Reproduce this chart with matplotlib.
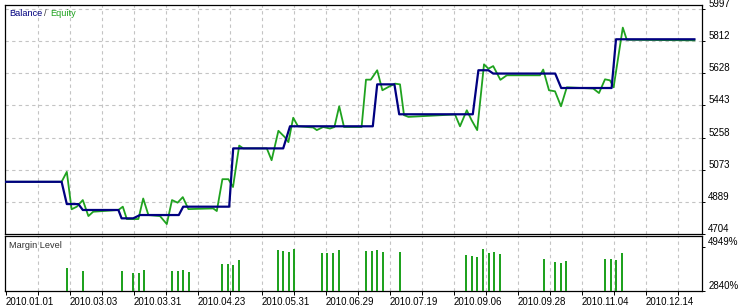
import numpy as np
import matplotlib
matplotlib.use("Agg")
import matplotlib.pyplot as plt

plt.rcParams['font.family'] = ['Liberation Sans', 'DejaVu Sans']

# x = trade number (uniform axis, dates only as labels)
balance_x = [-0.25, 13.9, 15.2, 18.1, 19.2, 28.1, 28.9, 31.8, 33.5, 43.2, 44.3, 55.8, 56.8, 69.3,
             71.0, 91.7, 92.8, 97.1, 98.3, 116.7, 118.1, 120.6, 121.8, 137.3, 138.8, 151.4, 152.5, 172.1]
balance = [5004, 5004, 4876, 4876, 4842, 4842, 4794, 4794, 4813, 4813, 4861, 4861, 5196, 5196,
           5323, 5323, 5564, 5564, 5392, 5392, 5645, 5645, 5626, 5626, 5543, 5543, 5823, 5823]

equity_x = [-0.25, 13.9, 15.2, 16.4, 17.7, 19.2, 20.6, 21.8, 28.1, 29.2, 30.2, 33.1, 34.3, 35.6,
            38.5, 40.2, 41.5, 42.9, 44.2, 45.6, 51.8, 52.7, 54.1, 55.6, 56.75, 58.3, 59.3, 65.2,
            66.4, 68.1, 69.6, 70.6, 71.8, 73.0, 76.8, 77.7, 79.3, 81.0, 82.1, 83.3, 84.5, 88.9,
            90.0, 91.2, 92.8, 94.1, 95.6, 97.25, 98.5, 99.5, 100.6, 112.25, 113.5, 115.2, 116.4,
            117.8, 119.5, 120.6, 121.8, 123.6, 125.2, 133.5, 134.3, 135.75, 137.25, 138.75, 140.2,
            146.8, 148.25, 149.75, 151.0, 151.9, 154.2, 155.2, 172.1]
equity = [5004, 5004, 5061, 4846, 4861, 4899, 4807, 4832, 4842, 4861, 4790, 4790, 4908, 4813,
          4807, 4761, 4899, 4884, 4916, 4847, 4851, 4836, 5019, 5019, 4974, 5212, 5196, 5196,
          5128, 5297, 5263, 5232, 5372, 5323, 5316, 5301, 5319, 5310, 5319, 5438, 5319, 5319,
          5591, 5591, 5645, 5530, 5549, 5568, 5564, 5387, 5377, 5391, 5323, 5415, 5358,
          5301, 5679, 5654, 5669, 5590, 5616, 5616, 5649, 5530, 5524, 5438, 5547,
          5540, 5514, 5593, 5587, 5547, 5890, 5820, 5817]

margin_x = [15.2, 19.2, 28.9, 31.7, 33.2, 34.5, 41.4, 42.9, 44.2, 45.75, 53.9, 55.4, 56.75, 58.2,
            67.9, 69.25, 70.75, 72.0, 78.9, 80.3, 81.7, 83.2, 90.0, 91.4, 92.75, 94.25, 98.5,
            114.9, 116.4, 117.75, 119.2, 120.7, 122.0, 123.5, 134.5, 137.25, 138.7, 140.0,
            149.75, 151.2, 152.5, 154.0]
margin_level = [3927, 3798, 3798, 3717, 3717, 3846, 3798, 3798, 3846, 3750, 4133, 4133, 4085, 4325,
                4804, 4756, 4708, 4852, 4660, 4660, 4660, 4804, 4756, 4756, 4804, 4708, 4708,
                4564, 4517, 4469, 4852, 4660, 4708, 4612, 4373, 4229, 4181, 4277,
                4373, 4373, 4325, 4660]

value_ticks = [4704, 4889, 5073, 5258, 5443, 5628, 5812, 5997]
margin_ticks = [2840, 4949]
date_labels = ['2010.01.01', '2010.03.03', '2010.03.31', '2010.04.23', '2010.05.31', '2010.06.29',
               '2010.07.19', '2010.09.06', '2010.09.28', '2010.11.04', '2010.12.14']

W, H = 742, 308
fig = plt.figure(figsize=(W / 100, H / 100), dpi=100)
ax = fig.add_axes([5 / W, 1 - 234 / H, 697 / W, 229 / H])
ax2 = fig.add_axes([5 / W, 1 - 291 / H, 697 / W, 55 / H])

grid_x = np.arange(0, 170, 8)
grid_style = dict(color='#c4c4c4', linestyle=(0, (3, 3)), linewidth=0.8)

# main panel
ax.plot(equity_x, equity, color='#1fa21f', lw=1.3, zorder=3)
ax.plot(balance_x, balance, color='#000080', lw=1.6, zorder=4)
ax.set_xlim(-0.25, 174)
ax.set_ylim(4704, 6020)
for gx in grid_x[1:]:
    ax.axvline(gx, zorder=1, **grid_style)
for gy in value_ticks[1:]:
    ax.axhline(gy, zorder=1, **grid_style)
ax.set_xticks([])
ax.yaxis.tick_right()
ax.set_yticks(value_ticks)
ax.set_yticklabels([str(v) for v in value_ticks], va='bottom')
ax.tick_params(axis='y', length=2, width=0.7, pad=2.5, labelsize=7)
for s in ax.spines.values():
    s.set_linewidth(0.9)

ax.text(4 / 697, 1 - 9 / 229, 'Balance', color='#000080', fontsize=6.6, transform=ax.transAxes, va='center')
ax.text(38.5 / 697, 1 - 9 / 229, '/', color='#404040', fontsize=6.6, transform=ax.transAxes, va='center')
ax.text(45 / 697, 1 - 9 / 229, 'Equity', color='#1fa21f', fontsize=6.6, transform=ax.transAxes, va='center')

# margin level panel
ax2.bar(margin_x, np.array(margin_level) - margin_ticks[0], bottom=margin_ticks[0],
        width=0.5, color='#1fa21f', zorder=3)
ax2.set_xlim(-0.25, 174)
ax2.set_ylim(2840, 5476)
for gx in grid_x[1:]:
    ax2.axvline(gx, zorder=1, **grid_style)
ax2.set_xticks(grid_x)
ax2.set_xticklabels([date_labels[i // 2] if i % 2 == 0 else '' for i in range(len(grid_x))], ha='left')
ax2.tick_params(axis='x', length=3, width=0.7, pad=1.5, labelsize=7)
ax2.yaxis.tick_right()
ax2.set_yticks(margin_ticks)
ax2.set_yticklabels([f'{v}%' for v in margin_ticks], va='bottom')
ax2.tick_params(axis='y', length=2, width=0.7, pad=2.5, labelsize=7)
for s in ax2.spines.values():
    s.set_linewidth(0.9)
ax2.text(4 / 697, 1 - 9 / 55, 'Margin Level', color='#303030', fontsize=6.6, transform=ax2.transAxes, va='center')

fig.savefig('out.png', dpi=100)
